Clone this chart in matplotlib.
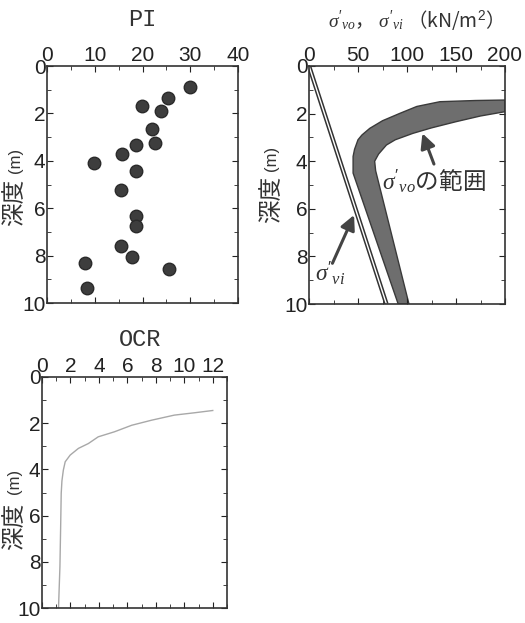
import matplotlib
matplotlib.use('Agg')
import matplotlib.pyplot as plt
from matplotlib.ticker import MultipleLocator

plt.rcParams['font.family'] = ['Liberation Sans', 'Noto Sans CJK JP']
plt.rcParams['mathtext.fontset'] = 'custom'
plt.rcParams['mathtext.rm'] = 'Liberation Sans'
plt.rcParams['mathtext.it'] = 'Liberation Serif:italic'
plt.rcParams['mathtext.bf'] = 'Liberation Sans:bold'

# --- PI ---
pi_val = [30, 25.4, 19.8, 23.8, 22.0, 22.6, 18.7, 15.8, 9.8, 18.7, 15.5, 18.6, 18.6, 15.6, 17.7, 8.0, 25.5, 8.3]
pi_depth = [0.87, 1.36, 1.69, 1.88, 2.67, 3.23, 3.34, 3.71, 4.1, 4.45, 5.24, 6.31, 6.77, 7.61, 8.08, 8.31, 8.57, 9.37]

# --- σ'vi (直線) ---
svi_depth = [0, 10]
svi_val = [0, 79]

# --- σ'vo の範囲 (上側・下側の境界) ---
band_top_x = [200, 170, 133.6, 110, 92.7, 75, 62, 54, 50, 46.5, 45, 45, 91]
band_top_d = [1.43, 1.45, 1.5, 1.7, 1.99, 2.3, 2.62, 2.9, 3.1, 3.5, 3.8, 4.5, 10]
band_bot_x = [200, 175, 150, 125, 106, 88, 79, 71, 67, 68, 102]
band_bot_d = [1.92, 2.1, 2.34, 2.6, 2.83, 3.1, 3.32, 3.7, 4.0, 4.4, 10]

# --- OCR ---
ocr_depth = [1.45, 1.55, 1.65, 1.87, 2.09, 2.37, 2.59, 2.88, 3.09, 3.38, 3.67, 4.03, 4.5, 5.04, 6.5, 8.2, 10.0]
ocr_val = [12.0, 10.7, 9.3, 7.7, 6.3, 5.1, 3.95, 3.26, 2.56, 1.98, 1.63, 1.5, 1.4, 1.35, 1.31, 1.26, 1.16]

W, H = 525, 623
fig = plt.figure(figsize=(W / 100, H / 100), dpi=100)
JP = 'Noto Sans CJK JP'  # 数式まじりの文字列用 (地の文字がこのフォントになる)


def make_ax(l, r, t, b):
    return fig.add_axes([l / W, 1 - b / H, (r - l) / W, (b - t) / H])


def style(ax, xmax, xmaj, xmin):
    ax.set_xlim(0, xmax)
    ax.set_ylim(10, 0)
    ax.xaxis.set_major_locator(MultipleLocator(xmaj))
    ax.xaxis.set_minor_locator(MultipleLocator(xmin))
    ax.yaxis.set_major_locator(MultipleLocator(2))
    ax.yaxis.set_minor_locator(MultipleLocator(1))
    ax.tick_params(which='both', direction='in', top=True, bottom=True, left=True, right=True,
                   labeltop=True, labelbottom=False, labelsize=15, colors='#222', pad=1)
    ax.tick_params(which='major', length=4)
    ax.tick_params(which='minor', length=3)
    for s in ax.spines.values():
        s.set_color('#333')
        s.set_linewidth(1.2)


def depth_label(ax, x, y1, y2):
    ax.text(x, y1, '深度', rotation=90, fontsize=17, ha='center', va='center',
            transform=ax.transAxes, color='#333')
    ax.text(x, y2, '(m)', rotation=90, fontsize=12, ha='center', va='center',
            transform=ax.transAxes, color='#333')


# PI
ax1 = make_ax(47, 238, 66, 303)
style(ax1, 40, 10, 5)
ax1.plot(pi_val, pi_depth, 'o', ms=9, color='#3d3d3d', mec='#2a2a2a')
ax1.text(0.5, 1.0 + 47 / 237, 'PI', transform=ax1.transAxes, ha='center', va='center',
         fontsize=17, family='Liberation Mono', color='#333')
depth_label(ax1, -0.165, 0.426, 0.6)

# σ'
ax2 = make_ax(309, 505, 66, 304)
style(ax2, 200, 50, 25)
band_x = band_top_x + band_bot_x[::-1]
band_d = band_top_d + band_bot_d[::-1]
ax2.fill(band_x, band_d, facecolor='#6e6e6e', edgecolor='#3a3a3a', lw=1)
ax2.plot(svi_val, svi_depth, color='#333', lw=3.2, solid_capstyle='butt')
ax2.plot(svi_val, svi_depth, color='white', lw=1.0, solid_capstyle='butt')
ax2.text(0.52, 1.0 + 46 / 238, r"$\sigma'_{vo}$， $\sigma'_{vi}$ （kN/m$^{\mathrm{2}}$）", transform=ax2.transAxes,
         ha='center', va='center', fontsize=14, color='#333', family=JP)
arrow = dict(arrowstyle='-|>', color='#444', lw=2.2, mutation_scale=22, shrinkA=0, shrinkB=0)
ax2.annotate('', xy=(115.7, 2.83), xytext=(127.5, 4.12), arrowprops=arrow)
ax2.annotate('', xy=(46, 6.26), xytext=(23.9, 8.29), arrowprops=arrow)
ax2.text(74, 4.86, r"$\sigma'_{vo}$の範囲", fontsize=17, ha='left', va='center', color='#333', family=JP)
ax2.text(6, 8.7, r"$\sigma'_{vi}$", fontsize=17, ha='left', va='center', color='#333')
depth_label(ax2, -0.19, 0.44, 0.61)

# OCR
ax3 = make_ax(42, 227, 377, 608)
style(ax3, 13, 2, 1)
ax3.plot(ocr_val, ocr_depth, color='#a8a8a8', lw=1.0)
ax3.text(0.53, 1.0 + 37 / 231, 'OCR', transform=ax3.transAxes, ha='center', va='center',
         fontsize=17, family='Liberation Mono', color='#333')
depth_label(ax3, -0.146, 0.355, 0.55)

fig.savefig('out.png', dpi=100)
